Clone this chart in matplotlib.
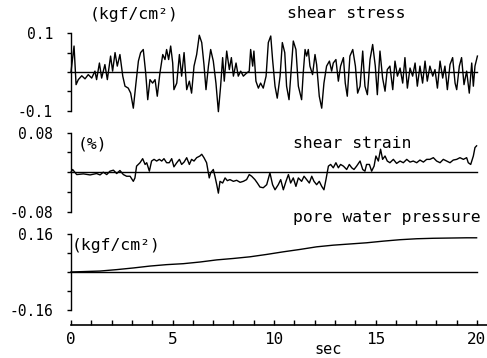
import matplotlib
matplotlib.use("Agg")
import matplotlib.pyplot as plt
from matplotlib.ticker import FixedLocator, MultipleLocator

plt.rcParams['font.family'] = ['DejaVu Sans Mono']

# shear stress (kgf/cm2): time of each turning point and its value
stress_t = [0.00, 0.15, 0.25, 0.36, 0.53, 0.69, 0.85, 1.02, 1.18, 1.26, 1.40, 1.51, 1.67, 1.79,
            1.95, 2.05, 2.17, 2.28, 2.41, 2.55, 2.66, 2.82, 2.94, 3.07, 3.20, 3.32, 3.43, 3.56,
            3.68, 3.78, 3.89, 4.02, 4.14, 4.25, 4.38, 4.52, 4.63, 4.71, 4.81, 4.91, 5.01, 5.07,
            5.21, 5.34, 5.45, 5.57, 5.70, 5.83, 5.94, 6.06, 6.19, 6.32, 6.44, 6.55, 6.65, 6.77,
            6.88, 7.01, 7.14, 7.26, 7.37, 7.47, 7.55, 7.67, 7.80, 7.90, 8.00, 8.13, 8.24, 8.36,
            8.49, 8.65, 8.78, 8.85, 8.95, 9.01, 9.11, 9.23, 9.34, 9.47, 9.61, 9.72, 9.84, 9.93,
            10.05, 10.16, 10.30, 10.41, 10.53, 10.62, 10.74, 10.85, 10.95, 11.08, 11.20, 11.36,
            11.44, 11.53, 11.61, 11.69, 11.77, 11.90, 12.02, 12.10, 12.23, 12.35, 12.46, 12.59,
            12.73, 12.84, 12.92, 13.05, 13.17, 13.28, 13.42, 13.51, 13.61, 13.74, 13.88, 14.01,
            14.12, 14.24, 14.37, 14.48, 14.60, 14.73, 14.86, 14.99, 15.09, 15.22, 15.35, 15.47,
            15.58, 15.71, 15.85, 15.96, 16.08, 16.21, 16.34, 16.45, 16.57, 16.70, 16.83, 16.95,
            17.06, 17.19, 17.32, 17.44, 17.55, 17.68, 17.82, 17.93, 18.05, 18.18, 18.31, 18.42,
            18.54, 18.67, 18.80, 18.92, 19.00, 19.13, 19.24, 19.36, 19.49, 19.62, 19.74, 19.82,
            19.90, 20.02]
stress = [0.000, 0.067, -0.033, -0.020, -0.010, -0.018, -0.007, -0.016, 0.002, -0.020, 0.023,
          -0.016, 0.019, -0.020, 0.041, 0.002, 0.050, 0.015, 0.045, -0.011, -0.037, -0.042,
          -0.055, -0.094, -0.029, 0.028, 0.050, 0.058, -0.003, -0.072, -0.020, -0.029, -0.020,
          -0.063, -0.003, 0.045, 0.032, 0.058, 0.032, 0.067, 0.023, -0.046, -0.029, 0.045,
          -0.011, 0.050, -0.046, -0.024, -0.055, 0.015, 0.045, 0.095, 0.076, 0.019, -0.046,
          0.015, 0.058, 0.028, -0.029, -0.103, -0.037, 0.037, -0.024, 0.054, 0.006, 0.037,
          -0.011, 0.023, -0.011, 0.002, -0.011, -0.003, 0.002, 0.058, 0.015, 0.054, -0.024,
          -0.042, -0.029, -0.042, -0.011, 0.076, 0.093, 0.032, -0.037, -0.068, -0.011, 0.076,
          0.050, -0.037, -0.072, 0.006, 0.080, 0.058, -0.037, -0.072, -0.003, 0.058, 0.041,
          0.058, 0.015, -0.007, 0.045, 0.019, -0.063, -0.094, -0.029, 0.015, 0.028, 0.002,
          0.023, 0.032, -0.024, 0.015, 0.037, -0.029, -0.063, 0.041, 0.058, 0.015, -0.055,
          -0.037, 0.054, -0.037, -0.059, 0.032, 0.071, 0.015, -0.059, 0.054, -0.016, -0.050,
          0.006, 0.015, -0.046, 0.028, -0.011, 0.010, -0.029, 0.037, -0.042, 0.010, -0.011,
          0.023, -0.037, 0.015, -0.029, 0.028, -0.024, 0.015, -0.011, 0.006, -0.042, 0.028,
          -0.016, 0.015, -0.046, 0.019, 0.037, -0.029, -0.046, 0.015, 0.037, -0.033, 0.002,
          -0.055, 0.023, -0.037, 0.015, 0.041]

# shear strain (%)
strain_t = [0.00, 0.08, 0.28, 0.61, 0.94, 1.26, 1.43, 1.59, 1.76, 1.92, 2.09, 2.25, 2.41, 2.58,
            2.74, 2.91, 3.07, 3.15, 3.23, 3.40, 3.53, 3.65, 3.73, 3.86, 3.97, 4.09, 4.22, 4.35,
            4.47, 4.58, 4.71, 4.84, 4.96, 5.07, 5.21, 5.34, 5.45, 5.57, 5.70, 5.83, 5.94, 6.06,
            6.19, 6.35, 6.44, 6.55, 6.68, 6.81, 6.88, 7.01, 7.09, 7.18, 7.26, 7.34, 7.47, 7.59,
            7.70, 7.83, 8.00, 8.16, 8.33, 8.49, 8.65, 8.78, 8.90, 8.98, 9.06, 9.18, 9.31, 9.47,
            9.64, 9.80, 9.93, 10.05, 10.21, 10.33, 10.46, 10.59, 10.71, 10.82, 10.95, 11.08,
            11.20, 11.36, 11.48, 11.61, 11.74, 11.86, 11.97, 12.10, 12.23, 12.35, 12.46, 12.56,
            12.68, 12.79, 12.92, 13.05, 13.17, 13.28, 13.42, 13.58, 13.71, 13.83, 13.94, 14.07,
            14.24, 14.37, 14.48, 14.56, 14.70, 14.81, 14.93, 15.02, 15.14, 15.25, 15.35, 15.47,
            15.58, 15.71, 15.88, 16.04, 16.21, 16.37, 16.54, 16.70, 16.86, 17.03, 17.19, 17.36,
            17.52, 17.68, 17.85, 18.01, 18.18, 18.34, 18.51, 18.67, 18.83, 19.00, 19.16, 19.33,
            19.49, 19.57, 19.69, 19.82, 19.90, 19.98]
strain = [0.0, 0.0055, -0.0048, -0.0034, -0.0055, -0.0027, -0.0055, 0.0, -0.0048, 0.0021,
          0.0041, -0.0027, 0.0034, -0.0048, -0.0082, -0.0082, -0.0185, -0.0116, 0.0123, 0.0192,
          0.0274, 0.0157, 0.0192, 0.0021, 0.0226, 0.0260, 0.0226, 0.0260, 0.0226, 0.0274,
          0.0192, 0.0192, 0.0274, 0.0109, 0.0192, 0.0260, 0.0157, 0.0205, 0.0294, 0.0157,
          0.0260, 0.0226, 0.0294, 0.0328, 0.0363, 0.0294, 0.0192, -0.0116, -0.0014, 0.0055,
          -0.0082, -0.0253, -0.0424, -0.0185, -0.0219, -0.0116, -0.0171, -0.0150, -0.0185,
          -0.0164, -0.0205, -0.0185, -0.0150, -0.0048, -0.0082, -0.0116, -0.0150, -0.0219,
          -0.0301, -0.0315, -0.0253, -0.0014, -0.0253, -0.0356, -0.0253, -0.0150, -0.0356,
          -0.0185, -0.0048, -0.0219, -0.0116, -0.0287, -0.0116, -0.0185, -0.0082, -0.0150,
          -0.0219, -0.0082, -0.0185, -0.0253, -0.0185, -0.0287, -0.0356, -0.0150, 0.0123,
          0.0157, 0.0089, 0.0192, 0.0089, 0.0157, 0.0123, 0.0055, 0.0157, 0.0089, 0.0055,
          0.0123, 0.0226, 0.0055, 0.0021, 0.0157, 0.0157, 0.0021, 0.0123, 0.0328, 0.0226,
          0.0465, 0.0260, 0.0328, 0.0226, 0.0192, 0.0260, 0.0178, 0.0226, 0.0192, 0.0260,
          0.0205, 0.0226, 0.0192, 0.0246, 0.0205, 0.0260, 0.0260, 0.0294, 0.0226, 0.0192,
          0.0260, 0.0226, 0.0192, 0.0246, 0.0260, 0.0294, 0.0260, 0.0294, 0.0192, 0.0157,
          0.0328, 0.0499, 0.0534]

# excess pore water pressure (kgf/cm2)
pore_t = [0.00, 1.43, 2.25, 3.07, 3.89, 4.71, 5.53, 6.35, 7.18, 8.00, 8.82, 9.64, 10.46,
          11.28, 12.10, 12.92, 13.74, 14.56, 15.39, 16.21, 17.03, 17.85, 18.67, 19.49, 19.98]
pore = [0.000, 0.004, 0.010, 0.017, 0.025, 0.031, 0.035, 0.042, 0.051, 0.057, 0.064, 0.074,
        0.085, 0.095, 0.106, 0.113, 0.118, 0.123, 0.130, 0.136, 0.140, 0.142, 0.143, 0.144,
        0.144]

panel_limits = [0.1, 0.08, 0.16]
panel_ticklabels = [("0.1", "-0.1"), ("0.08", "-0.08"), ("0.16", "-0.16")]
time_ticks = [0, 5, 10, 15, 20]

W, H = 487, 358
fig = plt.figure(figsize=(W / 100, H / 100), dpi=100)


def fx(px):
    return px / W


def fy(py):
    return 1 - py / H


left = 71
sec_px = 20.3
xmax = 20.6
width = xmax * sec_px

# (top, bottom) of each panel in pixels
panel_box = [(33.3, 110.5), (132.7, 211.7), (234.0, 310.0)]
series = [(stress_t, stress), (strain_t, strain), (pore_t, pore)]

for (top, bot), lim, (tl, bl), (t, v) in zip(panel_box, panel_limits, panel_ticklabels, series):
    ax = fig.add_axes([fx(left), fy(bot), fx(width), (bot - top) / H])
    ax.set_xlim(0, xmax)
    ax.set_ylim(-lim, lim)
    for s in ("top", "right", "bottom"):
        ax.spines[s].set_visible(False)
    ax.spines["left"].set_linewidth(1.0)
    ax.set_xticks([])
    ax.set_yticks([lim, -lim])
    ax.set_yticklabels([tl, bl])
    ax.yaxis.set_minor_locator(FixedLocator([-lim / 2, 0, lim / 2]))
    ax.tick_params(axis="y", which="both", direction="out", length=3, width=1.0,
                   labelsize=10.5, pad=10)
    ax.plot([0, 20], [0, 0], color="black", lw=1.0, clip_on=False)
    ax.plot(t, v, color="black", lw=1.0, clip_on=False)
    ax.patch.set_alpha(0)

# time axis along the bottom
axt = fig.add_axes([fx(left), fy(325), fx(W - left), 0.001])
axt.set_xlim(0, (W - left) / sec_px)
for s in ("top", "right", "left"):
    axt.spines[s].set_visible(False)
axt.spines["bottom"].set_linewidth(1.2)
axt.set_yticks([])
axt.set_xticks(time_ticks)
axt.set_xticklabels([str(v) for v in time_ticks])
axt.xaxis.set_minor_locator(MultipleLocator(1))
axt.tick_params(axis="x", which="both", direction="in", length=3.5, width=1.0,
                labelsize=11.5, pad=5)

txt = dict(fontsize=11.8, color="black", ha="left", va="baseline")
fig.text(fx(90), fy(18.5), "(kgf/cm²)", **txt)
fig.text(fx(287), fy(18.5), "shear stress", **txt)
fig.text(fx(78), fy(149), "(%)", **txt)
fig.text(fx(293), fy(147.5), "shear strain", **txt)
fig.text(fx(293), fy(222), "pore water pressure", **txt)
fig.text(fx(72), fy(250), "(kgf/cm²)", **txt)
fig.text(fx(328), fy(354), "sec", fontsize=11, ha="center", va="baseline")

fig.savefig("out.png", dpi=100)
